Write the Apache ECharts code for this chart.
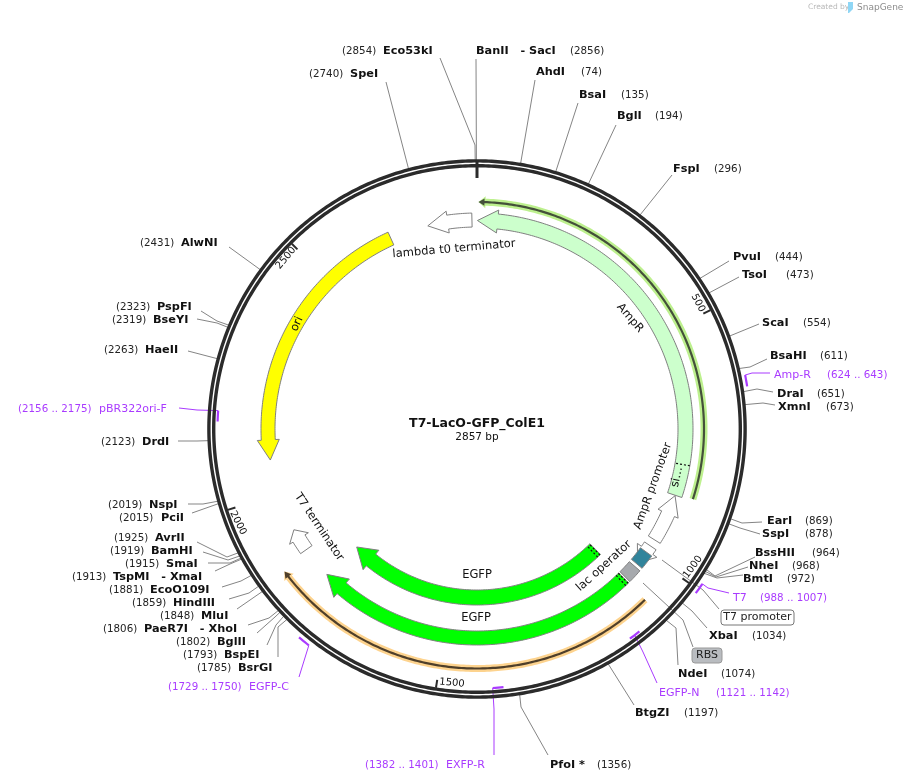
<!DOCTYPE html>
<html>
<head>
<meta charset="utf-8">
<title>T7-LacO-GFP_ColE1</title>
<script src="https://cdn.jsdelivr.net/npm/echarts@6/dist/echarts.min.js"></script>
<style>
html, body { margin: 0; padding: 0; background: #fff; }
#main { width: 905px; height: 782px; }
</style>
</head>
<body>
<div id="main"></div>
<script>
const plasmidName = 'T7-LacO-GFP_ColE1';
const plasmidSize = 2857;
const tickValues = [500, 1000, 1500, 2000, 2500];

// restriction sites: name, bp
const sites = [
    ['Eco53kI', 2854], ['BanII   - SacI', 2856], ['AhdI', 74], ['BsaI', 135], ['BglI', 194],
    ['FspI', 296], ['PvuI', 444], ['TsoI', 473], ['ScaI', 554], ['BsaHI', 611],
    ['DraI', 651], ['XmnI', 673], ['EarI', 869], ['SspI', 878], ['BssHII', 964],
    ['NheI', 968], ['BmtI', 972], ['XbaI', 1034], ['NdeI', 1074], ['BtgZI', 1197],
    ['PfoI *', 1356], ['BsrGI', 1785], ['BspEI', 1793], ['BglII', 1802], ['PaeR7I   - XhoI', 1806],
    ['MluI', 1848], ['HindIII', 1859], ['EcoO109I', 1881], ['TspMI   - XmaI', 1913], ['SmaI', 1915],
    ['BamHI', 1919], ['AvrII', 1925], ['PciI', 2015], ['NspI', 2019], ['DrdI', 2123],
    ['HaeII', 2263], ['BseYI', 2319], ['PspFI', 2323], ['AlwNI', 2431], ['SpeI', 2740]
];
// primers: name, start, end
const primers = [
    ['Amp-R', 624, 643], ['T7', 988, 1007], ['EGFP-N', 1121, 1142], ['EXFP-R', 1382, 1401],
    ['EGFP-C', 1729, 1750], ['pBR322ori-F', 2156, 2175]
];
// features: id, start, end, direction
const features = [
    ['lambda t0 terminator', 2749, 2846, -1],
    ['AmpR', 1, 861, -1],
    ['AmpR promoter', 862, 968, -1],
    ['T7 promoter', 984, 1030, 1],
    ['lac operator', 1000, 1033, 0],
    ['RBS', 1040, 1071, 0],
    ['EGFP', 1075, 1793, 1],
    ['EGFP 2', 1075, 1790, 1],
    ['T7 terminator', 1863, 1914, 1],
    ['ori', 2075, 2664, -1]
];
const thinFeatures = [
    ['AmpR line', 3, 857, -1],
    ['EGFP line', 1075, 1853, 1]
];
const featureTexts = [
    'lambda t0 terminator', 'AmpR', 'si\u2026', 'AmpR promoter', 'lac operator',
    'EGFP', 'EGFP', 'T7 terminator', 'ori'
];
// bp of the dotted separators inside features
const separators = [792, 1076, 1083, 1077, 1085];

// drawing styles and page layout, apart from the data above
const CX = 477, CY = 429;
const FONT = '"DejaVu Sans", Verdana, sans-serif';
const PURPLE = '#a93bff';
const LEADER = '#858585';

const featureStyle = {
    'lambda t0 terminator': {r1: 202, r2: 216, wing: 4, head: 44, fill: '#ffffff'},
    'AmpR': {r1: 201, r2: 216, wing: 4, head: 44, fill: '#ccffcc'},
    'AmpR promoter': {r1: 202, r2: 216, wing: 4, head: 42, fill: '#ffffff'},
    'T7 promoter': {r1: 202, r2: 216, wing: 5, head: 34, fill: '#ffffff'},
    'lac operator': {r1: 202, r2: 216, fill: '#31849b'},
    'RBS': {r1: 202, r2: 216, fill: '#a6a9ad'},
    'EGFP': {r1: 202, r2: 216, wing: 5, head: 44, fill: '#00ff00'},
    'EGFP 2': {r1: 161, r2: 176, wing: 5, head: 52, fill: '#00ff00'},
    'T7 terminator': {r1: 202, r2: 216, wing: 4, head: 22, fill: '#ffffff'},
    'ori': {r1: 202, r2: 216, wing: 4, head: 44, fill: '#ffff00'}
};
const thinStyle = {
    'AmpR line': {r: 227, halo: '#bdf08e', line: '#44503a'},
    'EGFP line': {r: 239.5, halo: '#fdd38e', line: '#4f3f2a'}
};
const separatorRadius = [216, 216, 216, 176, 176];
// name x, number x, text y, leader points going from the ring to the label
const siteLayout = {
    'Eco53kI': [383, 342, 51, [[475, 145], [440, 58]]],
    'BanII   - SacI': [476, 570, 51, [[476, 59]]],
    'AhdI': [536, 581, 72, [[535, 80]]],
    'BsaI': [579, 621, 95, [[578, 103]]],
    'BglI': [617, 655, 116, [[616, 125]]],
    'FspI': [673, 714, 169, [[672, 175]]],
    'PvuI': [733, 775, 257, [[729, 261]]],
    'TsoI': [742, 786, 275, [[739, 277]]],
    'ScaI': [762, 803, 323, [[759, 324]]],
    'BsaHI': [770, 820, 356, [[750, 367], [767, 359]]],
    'DraI': [777, 817, 394, [[757, 389], [773, 392]]],
    'XmnI': [778, 826, 407, [[763, 403], [775, 405]]],
    'EarI': [767, 805, 521, [[742, 523], [762, 522]]],
    'SspI': [762, 805, 534, [[740, 528], [760, 534]]],
    'BssHII': [755, 812, 553, [[715, 576], [755, 557]]],
    'NheI': [749, 792, 566, [[716, 577], [748, 567]]],
    'BmtI': [743, 787, 579, [[717, 578], [743, 575]]],
    'XbaI': [709, 752, 636, [[692, 611], [707, 628]]],
    'NdeI': [678, 721, 674, [[676, 628], [678, 665]]],
    'BtgZI': [635, 684, 713, [[634, 705]]],
    'PfoI *': [550, 597, 765, [[521, 707], [548, 755]]],
    'BsrGI': [238, 197, 668, [[278, 627], [278, 657]]],
    'BspEI': [224, 183, 655, [[276, 625], [267, 645]]],
    'BglII': [217, 176, 642, [[275, 617], [257, 633]]],
    'PaeR7I   - XhoI': [144, 103, 629, [[269, 618], [248, 625]]],
    'MluI': [201, 160, 616, [[237, 609]]],
    'HindIII': [173, 132, 603, [[249, 593], [229, 599]]],
    'EcoO109I': [150, 109, 590, [[241, 581], [222, 587]]],
    'TspMI   - XmaI': [113, 72, 577, [[230, 564], [215, 571]]],
    'SmaI': [166, 125, 564, [[230, 563], [208, 563]]],
    'BamHI': [151, 110, 551, [[228, 560], [203, 552]]],
    'AvrII': [155, 114, 538, [[227, 557], [197, 542]]],
    'PciI': [161, 119, 518, [[192, 513]]],
    'NspI': [149, 108, 505, [[203, 504], [188, 504]]],
    'DrdI': [142, 101, 442, [[197, 441], [178, 441]]],
    'HaeII': [145, 104, 350, [[188, 351]]],
    'BseYI': [153, 112, 320, [[217, 323], [197, 319]]],
    'PspFI': [157, 116, 307, [[217, 321], [201, 311]]],
    'AlwNI': [181, 140, 243, [[229, 247]]],
    'SpeI': [350, 309, 74, [[386, 82]]]
};
// name x, number x, y, mark radius, leader points, where along the mark the leader starts
const primerLayout = {
    'Amp-R': [774, 827, 375, 273.5, [[752, 373], [770, 373]], 0],
    'T7': [733, 760, 598, 273.5, [[708, 588], [729, 593]], 0],
    'EGFP-N': [659, 716, 693, 259.5, [[643, 652], [657, 683]], 0.5],
    'EXFP-R': [446, 365, 765, 259.5, [[494, 709], [494, 755]], 1],
    'EGFP-C': [249, 168, 687, 274, [[308, 648], [299, 677]], 0],
    'pBR322ori-F': [99, 18, 409, 259.5, [[197, 410], [179, 408]], 1]
};
const tickLayout = {
    500: [698, 303, -63], 1000: [693, 567, 54], 1500: [452, 683, -5],
    2000: [238, 523, -63], 2500: [286, 258, 50]
};
const featureTextLayout = [
    [454, 249, 5], [630, 318, -49], [677, 477, 78], [653, 486, 70], [604, 566, 42],
    [477, 575, 0], [476, 618, 0], [319, 527, -56], [297, 324, 65]
];

function arc(api, r, a, b) {
    const pts = [];
    const n = Math.max(2, Math.ceil(Math.abs(b - a) / 5));
    for (let i = 0; i <= n; i++) {
        pts.push(api.coord([r, a + (b - a) * i / n]));
    }
    return pts;
}

// closed outline of a feature, arrow head at the end given by dir
function featureOutline(api, a, b, dir, r1, r2, wing, head) {
    if (!dir) {
        return arc(api, r2, a, b).concat(arc(api, r1, b, a));
    }
    const tip = dir > 0 ? b : a;
    const tail = dir > 0 ? a : b;
    const neck = tip - dir * head;
    return arc(api, r2, tail, neck).concat(
        [api.coord([r2 + wing, neck]), api.coord([(r1 + r2) / 2, tip]), api.coord([r1 - wing, neck])],
        arc(api, r1, neck, tail)
    );
}

function text(x, y, str, opt) {
    opt = opt || {};
    return {
        type: 'text',
        x: x,
        y: y,
        rotation: (opt.rot || 0) * Math.PI / 180,
        style: {
            text: str,
            fill: opt.color || '#111',
            font: (opt.bold ? 'bold ' : '') + (opt.size || 11) + 'px ' + FONT,
            align: opt.align || 'left',
            verticalAlign: 'middle'
        }
    };
}

function line(points, stroke, width, dash) {
    return {
        type: 'polyline',
        shape: {points: points},
        style: {fill: null, stroke: stroke, lineWidth: width, lineDash: dash || null}
    };
}

function layer(data, renderItem, z) {
    return {
        type: 'custom',
        coordinateSystem: 'polar',
        data: data,
        renderItem: renderItem,
        silent: true,
        z: z
    };
}

const option = {
    animation: false,
    backgroundColor: '#fff',
    polar: {center: [CX, CY], radius: 400},
    radiusAxis: {min: 0, max: 400, show: false},
    angleAxis: {min: 0, max: plasmidSize, startAngle: 90, clockwise: true, show: false},
    series: [
        // leader lines, they run under the ring
        layer(sites.map(s => [268, s[1]]), (params, api) => {
            const s = sites[params.dataIndex];
            const pts = [api.coord([268, s[1]])].concat(siteLayout[s[0]][3]);
            return line(pts, LEADER, 1);
        }, 1),
        layer(primers.map(p => [260, p[1]]), (params, api) => {
            const p = primers[params.dataIndex];
            const lay = primerLayout[p[0]];
            const pts = [api.coord([lay[3], p[1] + (p[2] - p[1]) * lay[5]])].concat(lay[4]);
            return line(pts, PURPLE, 1);
        }, 1),
        // callouts of the small features
        layer([[0, 1012], [0, 1055]], (params) => {
            return params.dataIndex === 0
                ? line([[662, 560], [703, 590], [719, 609]], LEADER, 1)
                : line([[643, 583], [683, 620], [693, 647]], LEADER, 1);
        }, 1),
        // backbone
        layer([[268.1, 0], [263.3, 0]], (params, api) => {
            const r = api.value(0);
            return line(arc(api, r, 0, plasmidSize), '#2b2b2b', 3.4);
        }, 3),
        layer([[269, 0]], (params, api) => {
            return line([api.coord([269, 0]), api.coord([251, 0])], '#2b2b2b', 3);
        }, 4),
        layer(tickValues.map(t => [262, t]), (params, api) => {
            const t = tickValues[params.dataIndex];
            const lay = tickLayout[t];
            return {
                type: 'group',
                children: [
                    line([api.coord([262, t]), api.coord([254, t])], '#2b2b2b', 2),
                    text(lay[0], lay[1], String(t), {rot: lay[2], size: 10, align: 'center'})
                ]
            };
        }, 4),
        // primer marks
        layer(primers.map(p => [260, p[1]]), (params, api) => {
            const p = primers[params.dataIndex];
            return line(arc(api, primerLayout[p[0]][3], p[1], p[2]), PURPLE, 2.2);
        }, 5),
        // thin features with their halo
        layer(thinFeatures.map(f => [230, f[1]]), (params, api) => {
            const f = thinFeatures[params.dataIndex];
            const st = thinStyle[f[0]];
            return {
                type: 'group',
                children: [
                    {type: 'polygon', shape: {points: featureOutline(api, f[1], f[2], f[3], st.r - 3.5, st.r + 3.5, 2.5, 14)}, style: {fill: st.halo}},
                    {type: 'polygon', shape: {points: featureOutline(api, f[1], f[2], f[3], st.r - 1.1, st.r + 1.1, 2.6, 12)}, style: {fill: st.line}}
                ]
            };
        }, 5),
        // feature arrows and boxes
        layer(features.map(f => [209, f[1]]), (params, api) => {
            const f = features[params.dataIndex];
            const st = featureStyle[f[0]];
            return {
                type: 'polygon',
                shape: {points: featureOutline(api, f[1], f[2], f[3], st.r1, st.r2, st.wing, st.head)},
                style: {fill: st.fill, stroke: '#808080', lineWidth: 1}
            };
        }, 6),
        // sub-feature separators: AmpR signal sequence and the EGFP tails
        layer(separators.map((bp, i) => [separatorRadius[i], bp]), (params, api) => {
            const r = api.value(0), bp = api.value(1);
            return line([api.coord([r, bp]), api.coord([r - 15, bp])], '#111', 1.2, [2, 2]);
        }, 7),
        // site labels
        layer(sites.map(s => [300, s[1]]), (params, api) => {
            const s = sites[params.dataIndex];
            const lay = siteLayout[s[0]];
            return {
                type: 'group',
                children: [
                    text(lay[0], lay[2], s[0], {bold: true, size: 11.3}),
                    text(lay[1], lay[2], '(' + s[1] + ')', {color: '#222', size: 10.3})
                ]
            };
        }, 8),
        layer(primers.map(p => [300, p[1]]), (params, api) => {
            const p = primers[params.dataIndex];
            const lay = primerLayout[p[0]];
            return {
                type: 'group',
                children: [
                    text(lay[0], lay[2], p[0], {color: PURPLE}),
                    text(lay[1], lay[2], '(' + p[1] + ' .. ' + p[2] + ')', {color: PURPLE, size: 10.3})
                ]
            };
        }, 8),
        layer(featureTexts.map((t, i) => [0, i]), (params) => {
            const lay = featureTextLayout[params.dataIndex];
            return text(lay[0], lay[1], featureTexts[params.dataIndex], {rot: lay[2], align: 'center', size: 11.5});
        }, 8)
    ],
    graphic: [
        {type: 'text', x: CX, y: 424, z: 9, style: {text: plasmidName, fill: '#111', font: 'bold 12.5px ' + FONT, align: 'center', verticalAlign: 'middle'}},
        {type: 'text', x: CX, y: 437, z: 9, style: {text: plasmidSize + ' bp', fill: '#111', font: '10.5px ' + FONT, align: 'center', verticalAlign: 'middle'}},
        {type: 'rect', x: 721, y: 610, z: 9, shape: {width: 73, height: 15, r: 3}, style: {fill: '#fff', stroke: '#777', lineWidth: 1}},
        {type: 'text', x: 757.5, y: 617.5, z: 10, style: {text: 'T7 promoter', fill: '#222', font: '11px ' + FONT, align: 'center', verticalAlign: 'middle'}},
        {type: 'rect', x: 692, y: 648, z: 9, shape: {width: 30, height: 15, r: 3}, style: {fill: '#b9bcc0', stroke: '#999', lineWidth: 1}},
        {type: 'text', x: 707, y: 655.5, z: 10, style: {text: 'RBS', fill: '#222', font: '11px ' + FONT, align: 'center', verticalAlign: 'middle'}},
        {type: 'text', x: 808, y: 7.5, z: 9, style: {text: 'Created by', fill: '#b8b8b8', font: '7.5px ' + FONT, verticalAlign: 'middle'}},
        {type: 'polygon', z: 9, shape: {points: [[848, 2], [853, 2], [853, 9], [849, 13], [848, 13]]}, style: {fill: '#8fd6f5'}},
        {type: 'text', x: 857, y: 7.5, z: 9, style: {text: 'SnapGene', fill: '#8c8c8c', font: '9px ' + FONT, verticalAlign: 'middle'}}
    ]
};

const chart = echarts.init(document.getElementById('main'));
chart.setOption(option);
</script>
</body>
</html>
